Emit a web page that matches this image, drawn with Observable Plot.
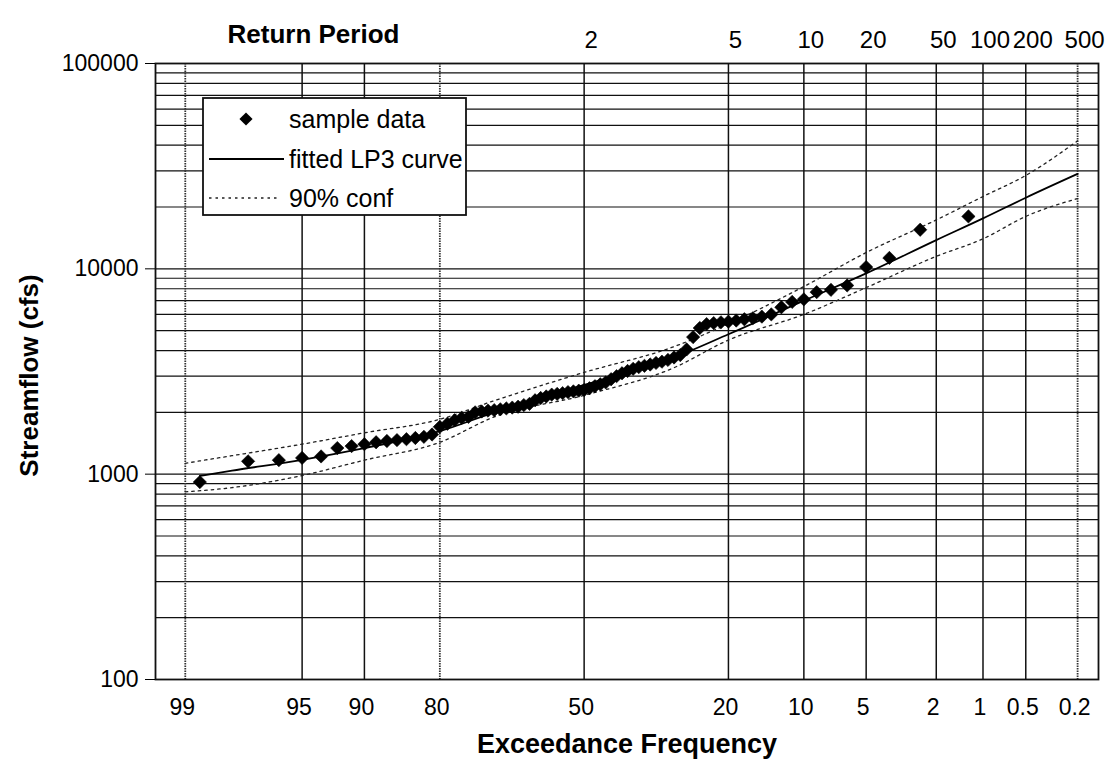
<!DOCTYPE html>
<html>
<head>
<meta charset="utf-8">
<script src="https://cdn.jsdelivr.net/npm/d3@7"></script>
<script src="https://cdn.jsdelivr.net/npm/@observablehq/plot@0.6"></script>
<style>
  html, body { margin: 0; padding: 0; background: #fff; }
  #chart { width: 1108px; height: 764px; }
</style>
</head>
<body>
<div id="chart"></div>
<script>
// ---------- data ----------
// sample data: exceedance frequency (%) and streamflow (cfs)
const sampleExceedance = [1.25, 2.5, 3.75, 5, 6.25, 7.5, 8.75, 10, 11.25, 12.5, 13.75, 15, 16.25, 17.5, 18.75, 20, 21.25, 22.5, 23.75, 25, 26.25, 27.5, 28.75, 30, 31.25, 32.5, 33.75, 35, 36.25, 37.5, 38.75, 40, 41.25, 42.5, 43.75, 45, 46.25, 47.5, 48.75, 50, 51.25, 52.5, 53.75, 55, 56.25, 57.5, 58.75, 60, 61.25, 62.5, 63.75, 65, 66.25, 67.5, 68.75, 70, 71.25, 72.5, 73.75, 75, 76.25, 77.5, 78.75, 80, 81.25, 82.5, 83.75, 85, 86.25, 87.5, 88.75, 90, 91.25, 92.5, 93.75, 95, 96.25, 97.5, 98.75];
const sampleFlow = [18000, 15500, 11300, 10200, 8300, 7900, 7700, 7100, 6900, 6500, 6000, 5850, 5750, 5680, 5600, 5530, 5490, 5440, 5380, 5150, 4650, 4050, 3800, 3700, 3600, 3530, 3480, 3420, 3370, 3320, 3260, 3180, 3100, 3000, 2900, 2800, 2740, 2680, 2620, 2570, 2550, 2530, 2510, 2480, 2460, 2440, 2390, 2350, 2290, 2200, 2170, 2130, 2110, 2090, 2070, 2050, 2040, 2020, 2000, 1900, 1880, 1830, 1760, 1700, 1560, 1520, 1500, 1480, 1465, 1450, 1430, 1400, 1370, 1340, 1220, 1200, 1170, 1155, 915];

// fitted LP3 curve
const fittedExceedance = [98.75, 98, 95, 90, 80, 70, 50, 30, 20, 10, 5, 2, 1, 0.5, 0.2];
const fittedFlow = [980, 1040, 1175, 1340, 1620, 2000, 2720, 3700, 4800, 7000, 9500, 13800, 17600, 22200, 29000];

// 90% confidence limits
const confExceedance = [99, 98, 95, 90, 80, 70, 50, 30, 20, 10, 5, 2, 1, 0.5, 0.2];
const confUpper = [1130, 1230, 1400, 1590, 1850, 2280, 3130, 4180, 5400, 8200, 12000, 17300, 22500, 28500, 42000];
const confLower = [820, 860, 985, 1170, 1430, 1900, 2420, 3300, 4500, 6000, 8100, 11500, 14000, 18000, 22000];

// axis tick labels
const exceedanceTicks = [99, 95, 90, 80, 50, 20, 10, 5, 2, 1, 0.5, 0.2];
const exceedanceLightTicks = [99, 80, 0.2];
const returnPeriodTicks = [2, 5, 10, 20, 50, 100, 200, 500];
const flowTicks = [100, 1000, 10000, 100000];
const gridMantissas = [1, 2, 3, 4, 5, 6, 7, 8, 9];
const gridDecades = [100, 1000, 10000];

// ---------- helpers ----------
// inverse standard normal CDF (Acklam) for the probability-paper axis
function invNorm(p) {
  const a = [-3.969683028665376e+01, 2.209460984245205e+02, -2.759285104469687e+02, 1.383577518672690e+02, -3.066479806614716e+01, 2.506628277459239e+00];
  const b = [-5.447609879822406e+01, 1.615858368580409e+02, -1.556989798598866e+02, 6.680131188771972e+01, -1.328068155288572e+01];
  const c = [-7.784894002430293e-03, -3.223964580411365e-01, -2.400758277161838e+00, -2.549732539343734e+00, 4.374664141464968e+00, 2.938163982698783e+00];
  const d = [7.784695709041462e-03, 3.224671290700398e-01, 2.445134137142996e+00, 3.754408661907416e+00];
  const plow = 0.02425, phigh = 1 - plow;
  let q, r;
  if (p < plow) {
    q = Math.sqrt(-2 * Math.log(p));
    return (((((c[0]*q+c[1])*q+c[2])*q+c[3])*q+c[4])*q+c[5]) / ((((d[0]*q+d[1])*q+d[2])*q+d[3])*q+1);
  }
  if (p <= phigh) {
    q = p - 0.5; r = q * q;
    return (((((a[0]*r+a[1])*r+a[2])*r+a[3])*r+a[4])*r+a[5])*q / (((((b[0]*r+b[1])*r+b[2])*r+b[3])*r+b[4])*r+1);
  }
  q = Math.sqrt(-2 * Math.log(1 - p));
  return -(((((c[0]*q+c[1])*q+c[2])*q+c[3])*q+c[4])*q+c[5]) / ((((d[0]*q+d[1])*q+d[2])*q+d[3])*q+1);
}
const zOf = (pct) => invNorm(1 - pct / 100);

const samples = sampleExceedance.map((e, i) => ({z: zOf(e), flow: sampleFlow[i]}));
const fitted = fittedExceedance.map((e, i) => ({z: zOf(e), flow: fittedFlow[i]}));
const upper = confExceedance.map((e, i) => ({z: zOf(e), flow: confUpper[i]}));
const lower = confExceedance.map((e, i) => ({z: zOf(e), flow: confLower[i]}));
const yGrid = [];
gridDecades.forEach(dec => gridMantissas.forEach(m => yGrid.push(m * dec)));
yGrid.push(100000);
const solidX = exceedanceTicks.filter(t => !exceedanceLightTicks.includes(t));

const FONT = "Liberation Sans, Arial, Helvetica, sans-serif";

const svg = Plot.plot({
  width: 1108,
  height: 764,
  marginLeft: 155,
  marginRight: 10,
  marginTop: 63,
  marginBottom: 85,
  style: {fontFamily: FONT, fontSize: "23px", color: "#000", background: "#fff", overflow: "visible"},
  x: {type: "linear", domain: [-2.5, 3.0], axis: null},
  y: {type: "log", domain: [100, 100000], axis: null},
  marks: [
    // horizontal grid
    Plot.ruleY(yGrid, {stroke: "#111", strokeWidth: 1.2}),
    // vertical grid
    Plot.ruleX(solidX, {x: d => zOf(d), stroke: "#111", strokeWidth: 1.5}),
    Plot.ruleX(exceedanceLightTicks, {x: d => zOf(d), stroke: "#333", strokeWidth: 1.8, strokeDasharray: "1.5,1"}),
    Plot.frame({stroke: "#111", strokeWidth: 1.8}),
    // y ticks and labels
    Plot.axisY({ticks: flowTicks, tickFormat: d => String(d), tickSize: 10, tickPadding: 7, label: null, fontSize: 23}),
    // bottom exceedance labels
    Plot.text(exceedanceTicks, {x: d => zOf(d), text: d => String(d), frameAnchor: "bottom", dy: 35, dx: -3, fontSize: 23}),
    // top return period labels
    Plot.text(returnPeriodTicks, {x: d => zOf(100 / d), text: d => String(d), frameAnchor: "top", dy: -33, dx: 7, fontSize: 24}),
    // titles
    Plot.text(["Return Period"], {frameAnchor: "top-left", dx: 72, dy: -39, textAnchor: "start", fontWeight: "bold", fontSize: 26}),
    Plot.text(["Exceedance Frequency"], {frameAnchor: "bottom", dy: 73, textAnchor: "middle", fontWeight: "bold", fontSize: 27}),
    Plot.text(["Streamflow (cfs)"], {frameAnchor: "left", dx: -126, dy: 4, rotate: -90, textAnchor: "middle", fontWeight: "bold", fontSize: 26}),
    // confidence limits
    Plot.line(upper, {x: "z", y: "flow", stroke: "#222", strokeWidth: 1.3, strokeDasharray: "2.5,4", curve: "monotone-x"}),
    Plot.line(lower, {x: "z", y: "flow", stroke: "#222", strokeWidth: 1.3, strokeDasharray: "2.5,4", curve: "monotone-x"}),
    // fitted curve
    Plot.line(fitted, {x: "z", y: "flow", stroke: "#000", strokeWidth: 1.8, curve: "monotone-x"}),
    // sample data
    Plot.dot(samples, {x: "z", y: "flow", symbol: "diamond2", r: 6, fill: "#000", stroke: "#000", strokeWidth: 0.6})
  ]
});

// legend box (inside plot, top-left)
const g = d3.select(svg).append("g").attr("font-family", FONT).attr("font-size", 25).attr("text-anchor", "start");
g.append("rect").attr("x", 203).attr("y", 98).attr("width", 263).attr("height", 117)
  .attr("fill", "#fff").attr("stroke", "#111").attr("stroke-width", 1.8);
g.append("path").attr("d", d3.symbol(d3.symbolDiamond2, 110)()).attr("transform", "translate(246,119)").attr("fill", "#000");
g.append("line").attr("x1", 209).attr("x2", 284).attr("y1", 159).attr("y2", 159).attr("stroke", "#000").attr("stroke-width", 1.8);
g.append("line").attr("x1", 209).attr("x2", 280).attr("y1", 198).attr("y2", 198).attr("stroke", "#222").attr("stroke-width", 1.3).attr("stroke-dasharray", "2.5,4");
[["sample data", 119], ["fitted LP3 curve", 159], ["90% conf", 198]].forEach(([t, y]) => {
  g.append("text").attr("x", 289).attr("y", y).attr("dy", "0.35em").attr("text-anchor", "start").text(t);
});

document.getElementById("chart").appendChild(svg);
</script>
</body>
</html>
